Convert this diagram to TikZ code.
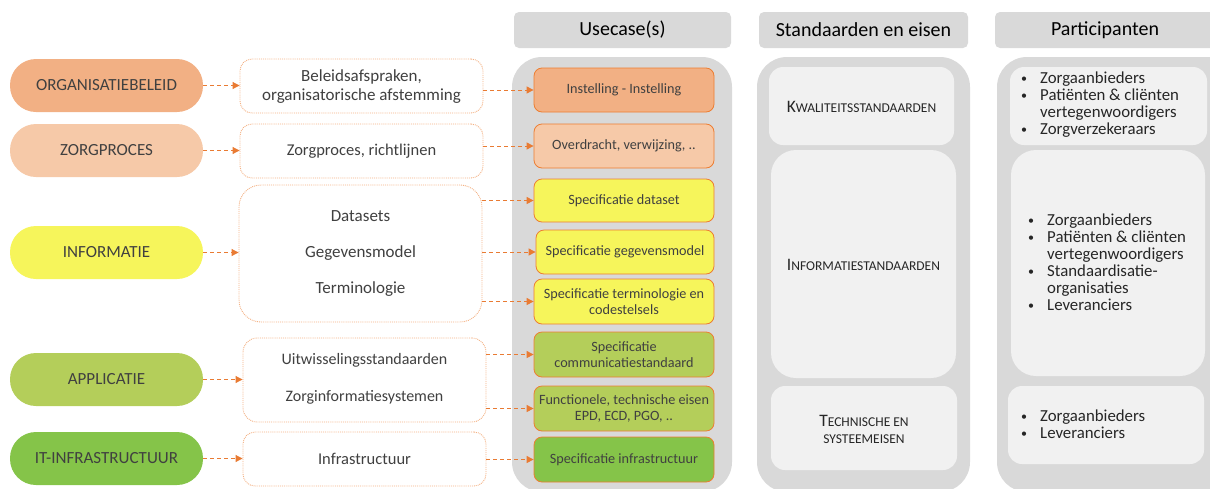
\documentclass[tikz,border=0pt]{standalone}
\usepackage{fontspec}
\setmainfont{Carlito}
\usetikzlibrary{arrows.meta}
\definecolor{corg}{HTML}{F2B084}
\definecolor{czorg}{HTML}{F6C9A8}
\definecolor{cinfo}{HTML}{F6F55B}
\definecolor{capp}{HTML}{B4CE5A}
\definecolor{cit}{HTML}{85C449}
\definecolor{ucb}{HTML}{ED7D31}
\definecolor{midb}{HTML}{F4B183}
\definecolor{arrc}{HTML}{E97B33}
\definecolor{hdrg}{HTML}{D9D9D9}
\definecolor{inbg}{HTML}{F1F1F1}
\definecolor{txt}{HTML}{404040}
\newcommand{\fsc}[2]{{\fontsize{17.5}{20}\selectfont #1}{\fontsize{13.5}{20}\selectfont #2}}
\tikzset{
  pill/.style={fill=#1, rounded corners=26pt, minimum width=193pt, minimum height=53pt, inner sep=0pt, text=txt, font=\fontsize{17}{20}\selectfont},
  midbox/.style={draw=midb, densely dotted, line width=0.9pt, rounded corners=12pt, fill=white, align=center, text=txt, inner sep=0pt},
  mtxt/.style={text=txt, font=\fontsize{#1}{19}\selectfont, inner sep=0pt},
  ucbox/.style={fill=#1, draw=ucb, line width=0.8pt, rounded corners=8pt, align=center, font=\fontsize{14.2}{16}\selectfont, text=txt, inner sep=0pt, minimum width=180pt},
  hdr/.style={fill=hdrg, rounded corners=5pt, text=black, inner sep=0pt, minimum height=36pt, font=\fontsize{20}{22}\selectfont},
  colbg/.style={fill=hdrg, rounded corners=30pt},
  inbox/.style={fill=inbg, rounded corners=14pt, inner sep=0pt},
  lst/.style={align=left, font=\fontsize{16.8}{17}\selectfont, text=black!85, inner sep=0pt, anchor=west},
  arr/.style={draw=arrc, dash pattern=on 4pt off 3pt, line width=1pt, -{Triangle[length=7pt,width=7pt]}},
}
\newcommand{\bl}{\makebox[19pt][l]{\raisebox{1pt}{\fontsize{12}{12}\selectfont\textbullet}}}
\newcommand{\ind}{\hspace*{19pt}}
\begin{document}
\begin{tikzpicture}[x=1pt,y=-1pt]
\useasboundingbox (0,0) rectangle (1210,488);
\clip (0,0) rectangle (1210,488);
% column backgrounds
\path[colbg] (512,57) rectangle (732,492);
\path[colbg] (757,57) rectangle (970,492);
\path[colbg] (997,57) rectangle (1240,492);
% headers
\node[hdr, minimum width=217pt] (h1) at (622.5,30) {Usecase(s)};
\node[hdr, minimum width=209pt] (h2) at (863.5,30) {Standaarden en eisen};
\node[hdr, minimum width=220pt] (h3) at (1105,30) {Participanten};
% left pills
\node[pill=corg] (org) at (106.5,85.5) {ORGANISATIEBELEID};
\node[pill=czorg] (zorg) at (106.5,150.5) {ZORGPROCES};
\node[pill=cinfo] (info) at (106.5,252.5) {INFORMATIE};
\node[pill=capp] (app) at (106.5,379.5) {APPLICATIE};
\node[pill=cit] (it) at (106.5,458.5) {IT-INFRASTRUCTUUR};
% middle boxes
\node[midbox, minimum width=243pt, minimum height=54pt] (m1) at (361.5,86) {};
\node[mtxt=17, align=center] (t11) at (361.5,87) {Beleidsafspraken,\\organisatorische afstemming};
\node[midbox, minimum width=243pt, minimum height=54pt] (m2) at (361.5,151) {};
\node[mtxt=16.5] (t21) at (361.5,151) {Zorgproces, richtlijnen};
\node[midbox, minimum width=243pt, minimum height=137pt, rounded corners=22pt] (m3) at (360.5,253.5) {};
\node[mtxt=17] (t31) at (360.5,216) {Datasets};
\node[mtxt=17] (t32) at (360.5,253) {Gegevensmodel};
\node[mtxt=17] (t33) at (360.5,289) {Terminologie};
\node[midbox, minimum width=243pt, minimum height=84pt, rounded corners=14pt] (m4) at (364.5,380) {};
\node[mtxt=16] (t41) at (364.5,360) {Uitwisselingsstandaarden};
\node[mtxt=16] (t42) at (364.5,397) {Zorginformatiesystemen};
\node[midbox, minimum width=243pt, minimum height=54pt] (m5) at (364.5,459) {};
\node[mtxt=16.5] (t51) at (364.5,459) {Infrastructuur};
% usecase boxes
\node[ucbox=corg, minimum height=44pt] (u1) at (624,90) {Instelling - Instelling};
\node[ucbox=czorg, minimum height=44pt] (u2) at (624,146) {Overdracht, verwijzing, ..};
\node[ucbox=cinfo, minimum height=43pt] (u3) at (624,200.5) {Specificatie dataset};
\node[ucbox=cinfo, minimum height=44pt, minimum width=178pt] (u4) at (625,252) {Specificatie gegevensmodel};
\node[ucbox=cinfo, minimum height=45pt] (u5) at (624,301.5) {Specificatie terminologie en\\codestelsels};
\node[ucbox=capp, minimum height=45pt] (u6) at (624,354.5) {Specificatie\\communicatiestandaard};
\node[ucbox=capp, minimum height=45pt] (u7) at (624,408.5) {Functionele, technische eisen\\EPD, ECD, PGO, ..};
\node[ucbox=cit, minimum height=45pt] (u8) at (624,459.5) {Specificatie infrastructuur};
% standaarden inner boxes
\node[inbox, minimum width=185pt, minimum height=78pt] (k) at (861.5,106) {};
\node[text=black!85, inner sep=0pt] (kt) at (861.5,107) {\fsc{K}{WALITEITSSTANDAARDEN}};
\node[inbox, minimum width=185pt, minimum height=228pt, rounded corners=25pt] (i) at (863.5,264) {};
\node[text=black!85, inner sep=0pt] (itx) at (863.5,265) {\fsc{I}{NFORMATIESTANDAARDEN}};
\node[inbox, minimum width=186pt, minimum height=84pt] (t) at (864,428) {};
\node[text=black!85, align=center, inner sep=0pt] (tt) at (864,429) {\fsc{T}{ECHNISCHE EN}\\[5pt]{\fontsize{13.5}{20}\selectfont SYSTEEMEISEN}};
% participanten inner boxes
\node[inbox, minimum width=197pt, minimum height=78pt] (p1) at (1108.5,106) {};
\node[lst] (l1) at (1021,104.5) {\bl Zorgaanbieders\\\bl Patiënten \& cliënten\\\ind vertegenwoordigers\\\bl Zorgverzekeraars};
\node[inbox, minimum width=194pt, minimum height=226pt, rounded corners=25pt] (p2) at (1108,263) {};
\node[lst] (l2) at (1028,262.5) {\bl Zorgaanbieders\\\bl Patiënten \& cliënten\\\ind vertegenwoordigers\\\bl Standaardisatie-\\\ind organisaties\\\bl Leveranciers};
\node[inbox, minimum width=196pt, minimum height=78pt] (p3) at (1106,425) {};
\node[lst] (l3) at (1021,424.5) {\bl Zorgaanbieders\\\bl Leveranciers};
% arrows pills -> middle
\draw[arr] (org.east) -- (org.east -| m1.west);
\draw[arr] (zorg.east) -- (zorg.east -| m2.west);
\draw[arr] (info.east) -- (info.east -| m3.west);
\draw[arr] (app.east) -- (app.east -| m4.west);
\draw[arr] (it.east) -- (it.east -| m5.west);
% arrows middle -> usecases
\draw[arr] (m1.east |- u1.west) -- (u1.west);
\draw[arr] (m2.east |- u2.west) -- (u2.west);
\draw[arr] (m3.east |- u3.west) -- (u3.west);
\draw[arr] (m3.east |- u4.west) -- (u4.west);
\draw[arr] (m3.east |- u5.west) -- (u5.west);
\draw[arr] (m4.east |- u6.west) -- (u6.west);
\draw[arr] (m4.east |- u7.west) -- (u7.west);
\draw[arr] (m5.east |- u8.west) -- (u8.west);
\end{tikzpicture}
\end{document}
